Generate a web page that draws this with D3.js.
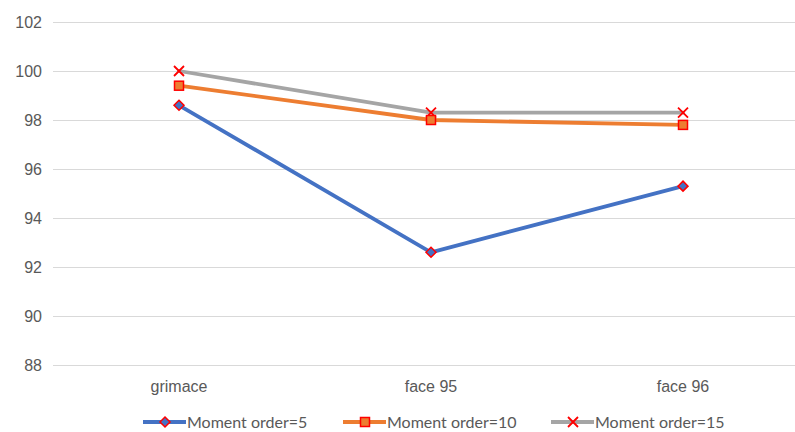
<!DOCTYPE html>
<html>
<head>
<meta charset="utf-8">
<script src="https://cdn.jsdelivr.net/npm/d3@7"></script>
<style>
  html, body { margin: 0; padding: 0; background: #fff; }
  svg { display: block; font-family: Lato, "Open Sans", sans-serif; }
</style>
</head>
<body>
<svg id="chart" width="795" height="432"></svg>
<script>
// Categories and the three moment-order series
const categories = ["grimace", "face 95", "face 96"];
const order5 = [98.6, 92.6, 95.3];
const order10 = [99.4, 98.0, 97.8];
const order15 = [100.0, 98.3, 98.3];
const yTicks = [88, 90, 92, 94, 96, 98, 100, 102];
const seriesNames = ["Moment order=5", "Moment order=10", "Moment order=15"];

const series = [
  { name: seriesNames[0], values: order5, color: "#4472C4", marker: "diamond" },
  { name: seriesNames[1], values: order10, color: "#ED7D31", marker: "square" },
  { name: seriesNames[2], values: order15, color: "#A5A5A5", marker: "cross" }
];

const svg = d3.select("#chart");
const plotLeft = 53, plotRight = 809, plotTop = 22, plotBottom = 365;
const textColor = "#595959";
const fontSize = 16;

const x = d3.scaleBand().domain(categories).range([plotLeft, plotRight]);
const y = d3.scaleLinear().domain([88, 102]).range([plotBottom, plotTop]);

// Horizontal gridlines with value labels
const yAxis = d3.axisLeft(y).tickValues(yTicks).tickSize(-(plotRight - plotLeft)).tickPadding(11);
const gy = svg.append("g").attr("transform", `translate(${plotLeft},0)`).call(yAxis);
gy.select(".domain").remove();
gy.selectAll(".tick line").attr("stroke", "#d9d9d9").attr("stroke-width", 1.2);
gy.selectAll(".tick text").attr("fill", textColor).attr("font-size", fontSize);

// Category labels
const xAxis = d3.axisBottom(x).tickSize(0).tickPadding(16);
const gx = svg.append("g").attr("transform", `translate(0,${plotBottom})`).call(xAxis);
gx.select(".domain").remove();
gx.selectAll(".tick text").attr("fill", textColor).attr("font-size", fontSize);

const cx = c => x(c) + x.bandwidth() / 2;

function drawMarker(g, type, color, px, py) {
  if (type === "diamond") {
    const r = 5;
    g.append("path")
      .attr("d", `M${px},${py - r}L${px + r},${py}L${px},${py + r}L${px - r},${py}Z`)
      .attr("fill", color).attr("stroke", "#FF0000").attr("stroke-width", 1.5);
  } else if (type === "square") {
    g.append("rect")
      .attr("x", px - 4.5).attr("y", py - 4.5).attr("width", 9).attr("height", 9)
      .attr("fill", color).attr("stroke", "#FF0000").attr("stroke-width", 1.5);
  } else {
    const s = 5;
    g.append("path")
      .attr("d", `M${px - s},${py - s}L${px + s},${py + s}M${px - s},${py + s}L${px + s},${py - s}`)
      .attr("stroke", "#FF0000").attr("stroke-width", 1.8).attr("fill", "none");
  }
}

const line = d3.line().x((d, i) => cx(categories[i])).y(d => y(d));

// Draw from the back series to the front
[...series].reverse().forEach(s => {
  const g = svg.append("g");
  g.append("path").datum(s.values).attr("d", line)
    .attr("fill", "none").attr("stroke", s.color).attr("stroke-width", 3.8)
    .attr("stroke-linejoin", "round").attr("stroke-linecap", "round");
  s.values.forEach((v, i) => drawMarker(g, s.marker, s.color, cx(categories[i]), y(v)));
});

// Legend
const legendX = [143, 343, 551];
const legendY = 422;
series.forEach((s, i) => {
  const g = svg.append("g");
  const lx = legendX[i];
  g.append("line").attr("x1", lx).attr("x2", lx + 43).attr("y1", legendY).attr("y2", legendY)
    .attr("stroke", s.color).attr("stroke-width", 3.8);
  drawMarker(g, s.marker, s.color, lx + 22, legendY);
  g.append("text").attr("x", lx + 44).attr("y", legendY).attr("dy", "0.35em")
    .attr("fill", textColor).attr("font-size", fontSize).text(s.name);
});
</script>
</body>
</html>
